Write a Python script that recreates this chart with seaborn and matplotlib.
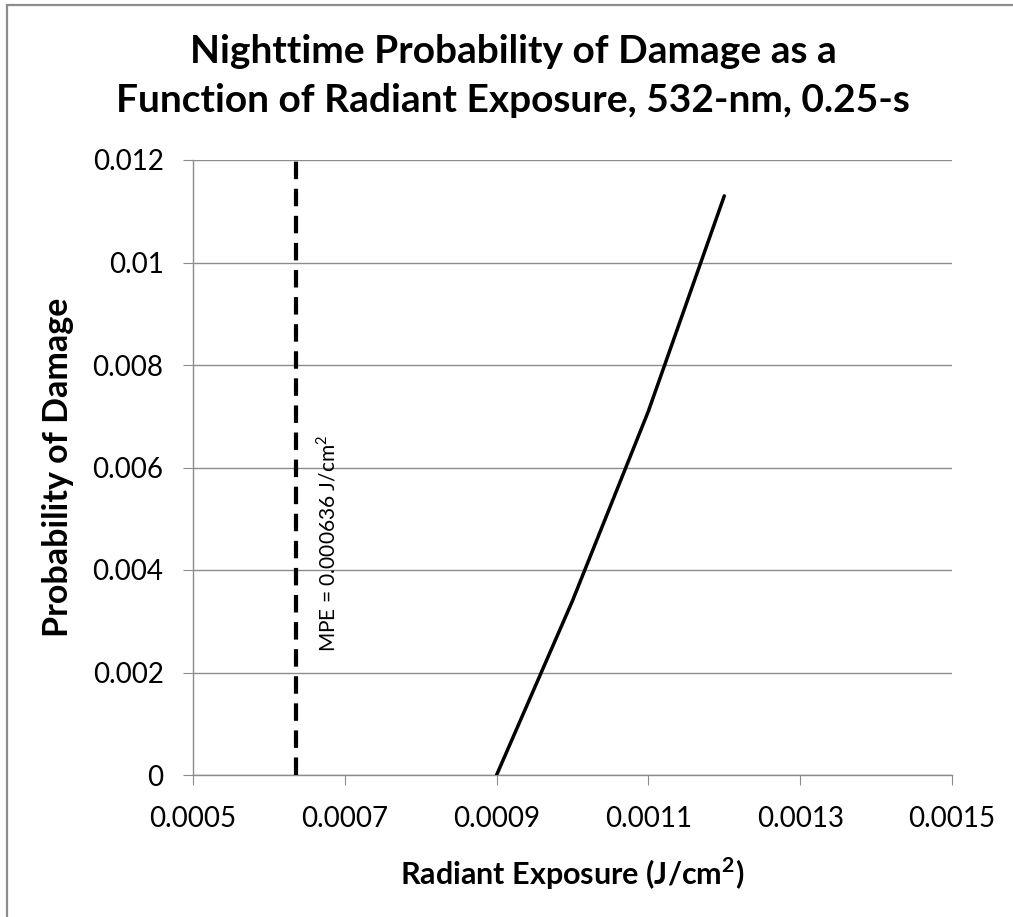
import numpy as np
import pandas as pd
import seaborn as sns
import matplotlib
matplotlib.use("Agg")
import matplotlib.pyplot as plt
from matplotlib.patches import Rectangle

# Dose-response data: probability of damage versus radiant exposure
exposure = [0.0009, 0.0010, 0.0011, 0.0012]
probability = [0.0, 0.0034, 0.0071, 0.0113]

# Maximum permissible exposure marker
mpe_value = 0.000636
mpe_span = [0.0, 0.012]

x_ticks = [0.0005, 0.0007, 0.0009, 0.0011, 0.0013, 0.0015]
x_tick_labels = ["0.0005", "0.0007", "0.0009", "0.0011", "0.0013", "0.0015"]
y_ticks = [0.0, 0.002, 0.004, 0.006, 0.008, 0.010, 0.012]
y_tick_labels = ["0", "0.002", "0.004", "0.006", "0.008", "0.01", "0.012"]

title_lines = ["Nighttime Probability of Damage as a",
               "Function of Radiant Exposure, 532-nm, 0.25-s"]

sns.set_theme(style="white")
plt.rcParams["font.family"] = ["Lato", "DejaVu Sans"]

W, H = 1013, 917
fig = plt.figure(figsize=(W / 100, H / 100), dpi=100)
fig.patch.set_facecolor("white")

# plot area in pixel terms
left_px, right_px, top_px, bottom_px = 193, 952, 160, 775
ax = fig.add_axes([left_px / W, 1 - bottom_px / H,
                   (right_px - left_px) / W, (bottom_px - top_px) / H])

grid_col = "#8c8c8c"

curve = pd.DataFrame({"exposure": exposure, "probability": probability})
mpe_df = pd.DataFrame({"exposure": [mpe_value, mpe_value], "probability": mpe_span})

sns.lineplot(data=mpe_df, x="exposure", y="probability", ax=ax, color="black",
             estimator=None, sort=False, errorbar=None,
             lw=3.0, linestyle=(0, (4.2, 2.3)), dash_capstyle="butt", zorder=3)
sns.lineplot(data=curve, x="exposure", y="probability", ax=ax, color="black",
             estimator=None, sort=False, errorbar=None,
             lw=2.5, solid_capstyle="round", zorder=4)

ax.set_xlim(x_ticks[0], x_ticks[-1])
ax.set_ylim(y_ticks[0], y_ticks[-1])
ax.set_xticks(x_ticks)
ax.set_xticklabels(x_tick_labels)
ax.set_yticks(y_ticks)
ax.set_yticklabels(y_tick_labels)

ax.yaxis.grid(True, color=grid_col, lw=1.0)
ax.xaxis.grid(False)
ax.set_axisbelow(True)
for side in ["top", "right"]:
    ax.spines[side].set_visible(False)
for side in ["left", "bottom"]:
    ax.spines[side].set_color(grid_col)
    ax.spines[side].set_linewidth(1.0)

ax.tick_params(axis="both", which="major", direction="out", length=7.2,
               width=0.8, color=grid_col, labelsize=20, labelcolor="black")
ax.tick_params(axis="y", pad=14, left=True)
ax.tick_params(axis="x", pad=15, bottom=True)

ax.set_xlabel("Radiant Exposure (J/cm$^\\mathregular{2}$)", fontsize=22,
              fontweight="bold", color="black")
ax.set_ylabel("Probability of Damage", fontsize=24.5, fontweight="bold",
              color="black")
ax.xaxis.set_label_coords(0.5, -(856 - bottom_px) / (bottom_px - top_px))
ax.yaxis.set_label_coords(-(193 - 74) / (right_px - left_px), 0.5)

# MPE annotation beside the dashed line
ax.text(mpe_value + 0.0000255, 0.0024, "MPE = 0.000636 J/cm$^\\mathregular{2}$",
        rotation=90, ha="left", va="bottom", fontsize=15, color="black")

# two-line title
fig.text(513 / W, 1 - 63 / H, title_lines[0], ha="center", va="baseline",
         fontsize=28, fontweight="bold", color="black")
fig.text(513 / W, 1 - 112 / H, title_lines[1], ha="center", va="baseline",
         fontsize=28, fontweight="bold", color="black")

# chart frame
fig.patches.append(Rectangle((7 / W, -0.2), 2.0, 1.2 - 5 / H,
                             transform=fig.transFigure, fill=False,
                             edgecolor="#8c8c8c", lw=1.6, clip_on=False))

fig.savefig("out.png", dpi=100, facecolor="white")
